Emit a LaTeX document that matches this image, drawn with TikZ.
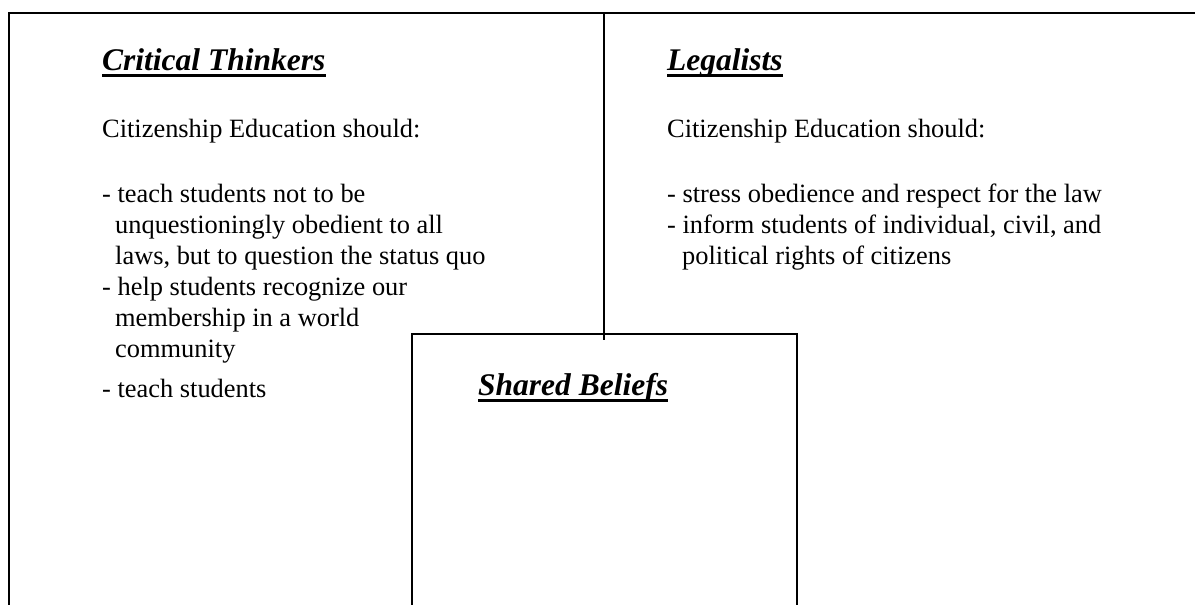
\documentclass[tikz,border=0pt]{standalone}
\usepackage{fontspec}
\setmainfont{Liberation Serif}
\usepackage{tikz}

\newcommand{\headfont}{\fontsize{31.5}{37}\selectfont\bfseries\itshape}
\newcommand{\bodyfont}{\fontsize{26.4}{31.2}\selectfont}

\tikzset{
	heading/.style={anchor=base west, inner sep=0, font=\headfont},
	body/.style={anchor=base west, inner sep=0, font=\bodyfont},
	uline/.style={line width=3pt},
	frame/.style={line width=1.6pt},
	wall/.style={line width=1.2pt}
}

\begin{document}
\begin{tikzpicture}[x=1pt,y=-1pt]
	\useasboundingbox (0,0) rectangle (1195,605);

	\draw[frame] (1195,13) -- (9,13) -- (9,605);
	\draw[wall] (604,13) -- (604,340);
	\draw[wall] (412,605) -- (412,334) -- (797,334) -- (797,605);

	\node[heading] (ct) at (102,70) {Critical Thinkers};
	\node[heading] (lg) at (667,70) {Legalists};
	\node[heading] (sb) at (478,395) {Shared Beliefs};

	\draw[uline] ([yshift=-5pt]ct.base west) -- ([yshift=-5pt]ct.base east);
	\draw[uline] ([yshift=-5pt]lg.base west) -- ([yshift=-5pt]lg.base east);
	\draw[uline] ([yshift=-5pt]sb.base west) -- ([yshift=-5pt]sb.base east);

	\node[body] (ctintro) at (102,137) {Citizenship Education should:};
	\node[body] (ct1) at (102,202) {\parbox[t]{480pt}{\raggedright
		- teach students not to be\\
		\hspace*{13pt}unquestioningly obedient to all\\
		\hspace*{13pt}laws, but to question the status quo}};
	\node[body] (ct2) at (102,295) {\parbox[t]{480pt}{\raggedright
		- help students recognize our\\
		\hspace*{13pt}membership in a world\\
		\hspace*{13pt}community}};
	\node[body] (ct3) at (102,397) {- teach students};

	\node[body] (lgintro) at (667,137) {Citizenship Education should:};
	\node[body] (lg1) at (667,202) {\parbox[t]{480pt}{\raggedright
		- stress obedience and respect for the law\\
		- inform students of individual, civil, and\\
		\hspace*{15pt}political rights of citizens}};
\end{tikzpicture}
\end{document}
